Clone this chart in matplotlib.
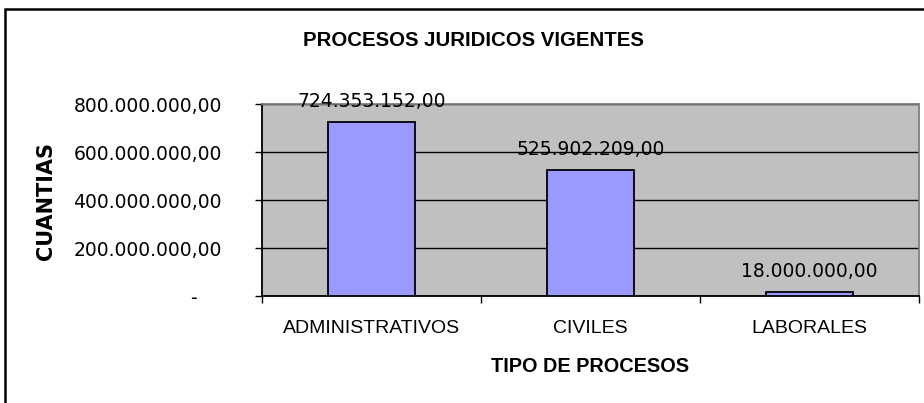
import matplotlib
matplotlib.use("Agg")
import matplotlib.pyplot as plt
from matplotlib.patches import Rectangle

categorias = ["ADMINISTRATIVOS", "CIVILES", "LABORALES"]
cuantias = [724353152.00, 525902209.00, 18000000.00]
y_ticks = [0, 200000000, 400000000, 600000000, 800000000]


def formato(v):
    # formato contable estilo Excel: 1.234,00 y "-" para cero
    if v == 0:
        return "-    "
    s = "{:,.2f}".format(v)
    return s.replace(",", "X").replace(".", ",").replace("X", ".")


arial = ["Liberation Sans", "DejaVu Sans"]

fig = plt.figure(figsize=(9.24, 4.03), dpi=100)
fig.patch.set_facecolor("white")

# marco del grafico
fig.patches.append(Rectangle((5 / 924, -0.2), 1.2, 1.2 - 9 / 403,
                             transform=fig.transFigure, fill=False,
                             edgecolor="black", linewidth=1.8))

ax = fig.add_axes([262 / 924, 1 - 296 / 403, 657 / 924, 192 / 403])
ax.set_facecolor("#C0C0C0")

x = range(len(categorias))
ax.bar(x, cuantias, width=0.4, color="#9999FF", edgecolor="black", linewidth=1.3, zorder=3)

for xi, v in zip(x, cuantias):
    ax.annotate(formato(v), (xi, v), xytext=(0, 8), textcoords="offset points",
                ha="center", va="bottom", fontsize=13.5, family="DejaVu Sans", color="black")

ax.set_xlim(-0.5, 2.5)
ax.set_ylim(0, 800000000)
ax.set_yticks(y_ticks)
ax.set_yticklabels([formato(v) for v in y_ticks], fontsize=13.5, family="DejaVu Sans")
ax.tick_params(axis="y", direction="out", length=5, width=1, pad=24)

ax.set_xticks([-0.5, 0.5, 1.5, 2.5])
ax.set_xticklabels([])
ax.tick_params(axis="x", which="major", direction="out", length=5, width=1)
ax.set_xticks(list(x), minor=True)
ax.set_xticklabels(categorias, minor=True, fontsize=14, family=arial)
ax.tick_params(axis="x", which="minor", length=0, pad=17)

ax.yaxis.grid(True, color="black", linewidth=1)
ax.set_axisbelow(True)

ax.spines["left"].set_color("black")
ax.spines["bottom"].set_color("black")
ax.spines["top"].set_color("#808080")
ax.spines["right"].set_color("#808080")
for s in ax.spines.values():
    s.set_linewidth(1.3)

fig.text(473 / 924, 1 - 40 / 403, "PROCESOS JURIDICOS VIGENTES", ha="center", va="center",
         fontsize=14.7, fontweight="bold", family=arial)
fig.text(590 / 924, 1 - 367 / 403, "TIPO DE PROCESOS", ha="center", va="center",
         fontsize=14.3, fontweight="bold", family=arial)
fig.text(46 / 924, 1 - 201 / 403, "CUANTIAS", ha="center", va="center", rotation=90,
         fontsize=15, fontweight="bold", family="DejaVu Sans")

fig.savefig("out.png", dpi=100)
